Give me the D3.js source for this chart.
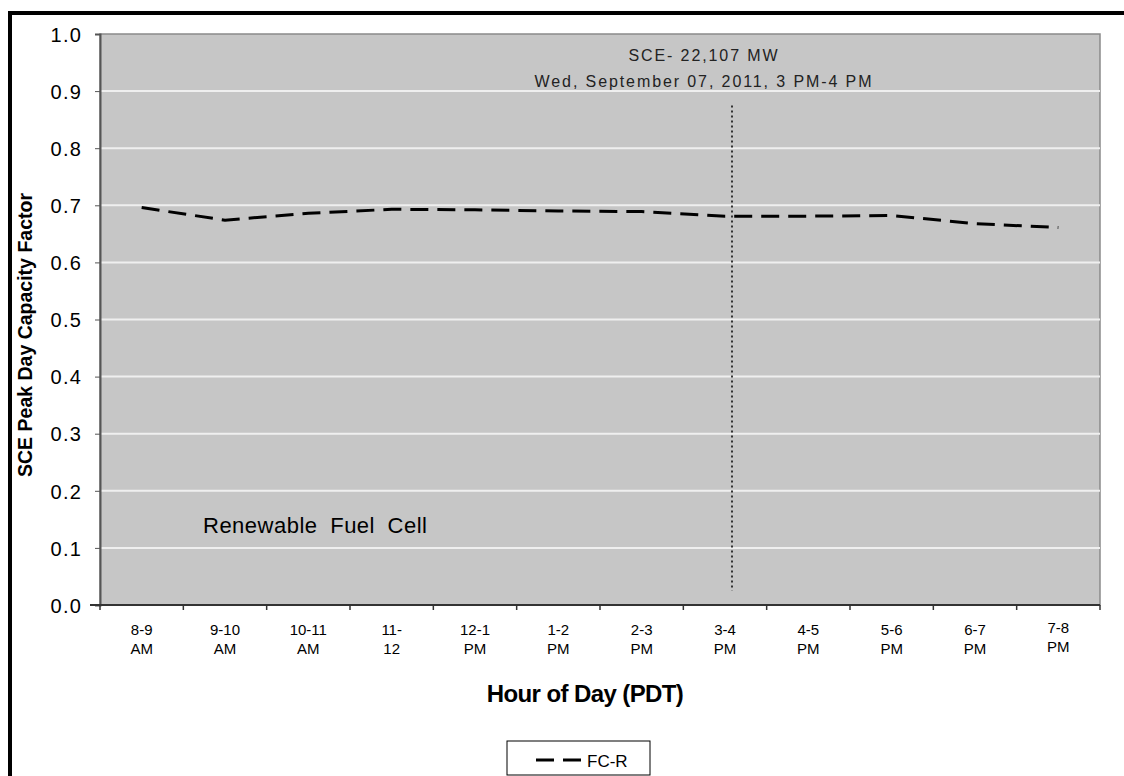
<!DOCTYPE html>
<html><head><meta charset="utf-8">
<script src="https://cdn.jsdelivr.net/npm/d3@7"></script>
<style>body{margin:0;background:#fff;}svg{display:block;font-family:Arial,"Liberation Sans",sans-serif;}</style>
</head><body>
<svg id="c" width="1124" height="776"></svg>
<script>
const categories = ["8-9|AM","9-10|AM","10-11|AM","11-|12","12-1|PM","1-2|PM","2-3|PM","3-4|PM","4-5|PM","5-6|PM","6-7|PM","7-8|PM"];
const fcrValues = [0.696,0.674,0.686,0.693,0.692,0.690,0.689,0.681,0.681,0.682,0.668,0.661];
const yTicks = [0,0.1,0.2,0.3,0.4,0.5,0.6,0.7,0.8,0.9,1.0];
const peakCategory = "3-4|PM";
const seriesName = "FC-R";

const svg = d3.select("#c");
const L=100,T=34,R=1100,B=605;
// outer border
svg.append("rect").attr("x",10).attr("y",13).attr("width",1130).attr("height",800)
  .attr("fill","#fff").attr("stroke","#000").attr("stroke-width",4);

const x = d3.scaleBand().domain(categories).range([L,R]);
const y = d3.scaleLinear().domain([0,1]).range([B,T]);

svg.append("rect").attr("x",L).attr("y",T).attr("width",R-L).attr("height",B-T)
  .attr("fill","#c6c6c6").attr("stroke","#8a8a8a").attr("stroke-width",1.5);

// gridlines
svg.append("g").selectAll("line").data(yTicks.filter(d=>d>0&&d<1)).join("line")
  .attr("x1",L).attr("x2",R).attr("y1",d=>y(d)).attr("y2",d=>y(d))
  .attr("stroke","#efefef").attr("stroke-width",2);

// y axis
const ya = svg.append("g").attr("transform",`translate(${L},0)`)
  .call(d3.axisLeft(y).tickValues(yTicks).tickFormat(d3.format(".1f")).tickSize(5).tickPadding(13));
ya.select(".domain").attr("stroke","#555").attr("stroke-width",2);
ya.selectAll(".tick line").attr("stroke","#555");
ya.selectAll("text").attr("font-size",20).attr("letter-spacing",1.2).attr("fill","#000")
  .attr("font-family","Arial,'Liberation Sans',sans-serif").attr("dy","0.36em");

// x axis with ticks at band edges
const xa = svg.append("g").attr("transform",`translate(0,${B})`);
xa.append("line").attr("x1",L-10).attr("x2",R).attr("y1",0).attr("y2",0).attr("stroke","#333").attr("stroke-width",2);
const edges = categories.map(c=>x(c)).concat([R]);
xa.selectAll("line.t").data(edges).join("line").attr("class","t")
  .attr("x1",d=>d).attr("x2",d=>d).attr("y1",0).attr("y2",5).attr("stroke","#333").attr("stroke-width",1.5);
const lab = xa.selectAll("text").data(categories).join("text")
  .attr("text-anchor","middle").attr("font-size",15).attr("fill","#000");
lab.each(function(d){
  const parts=d.split("|");
  const t=d3.select(this);
  const last = d===categories[categories.length-1];
  const cx = x(d)+x.bandwidth()/2;
  t.append("tspan").attr("x",cx).attr("y",last?28:30).text(parts[0]);
  t.append("tspan").attr("x",cx).attr("y",last?47:49).text(parts[1]);
});

// peak dotted line
const px = x(peakCategory)+x.bandwidth()/2+7;
svg.append("line").attr("x1",px).attr("x2",px).attr("y1",y(0.875)).attr("y2",y(0.025))
  .attr("stroke","#333").attr("stroke-width",2).attr("stroke-dasharray","2,3");

// series line
const line = d3.line().x((d,i)=>x(categories[i])+x.bandwidth()/2).y(d=>y(d));
svg.append("path").datum(fcrValues).attr("d",line).attr("fill","none")
  .attr("stroke","#000").attr("stroke-width",3).attr("stroke-dasharray","18,9");

// annotations
svg.append("text").attr("x",704).attr("y",61).attr("text-anchor","middle").attr("font-size",16).attr("letter-spacing",1.9).attr("fill","#222").text("SCE- 22,107 MW");
svg.append("text").attr("x",704).attr("y",87).attr("text-anchor","middle").attr("font-size",16).attr("letter-spacing",1.9).attr("fill","#222").text("Wed, September 07, 2011, 3 PM-4 PM");
svg.append("text").attr("x",203).attr("y",533).attr("font-size",22).attr("letter-spacing",0.5).attr("word-spacing",6).attr("fill","#000").text("Renewable Fuel Cell");

// axis titles
svg.append("text").attr("transform","translate(32,335) rotate(-90)").attr("text-anchor","middle")
  .attr("font-size",19.5).attr("font-weight","bold").text("SCE Peak Day Capacity Factor");
svg.append("text").attr("x",585).attr("y",702).attr("text-anchor","middle")
  .attr("font-size",24).attr("font-weight","bold").attr("letter-spacing",-0.6).text("Hour of Day (PDT)");

// legend
svg.append("rect").attr("x",507).attr("y",741).attr("width",143).attr("height",34).attr("fill","#fff").attr("stroke","#000").attr("stroke-width",1);
svg.append("line").attr("x1",536).attr("x2",581).attr("y1",760).attr("y2",760).attr("stroke","#000").attr("stroke-width",3).attr("stroke-dasharray","18,9");
svg.append("text").attr("x",587).attr("y",767).attr("font-size",17).attr("fill","#000").text(seriesName);
</script>
</body></html>
